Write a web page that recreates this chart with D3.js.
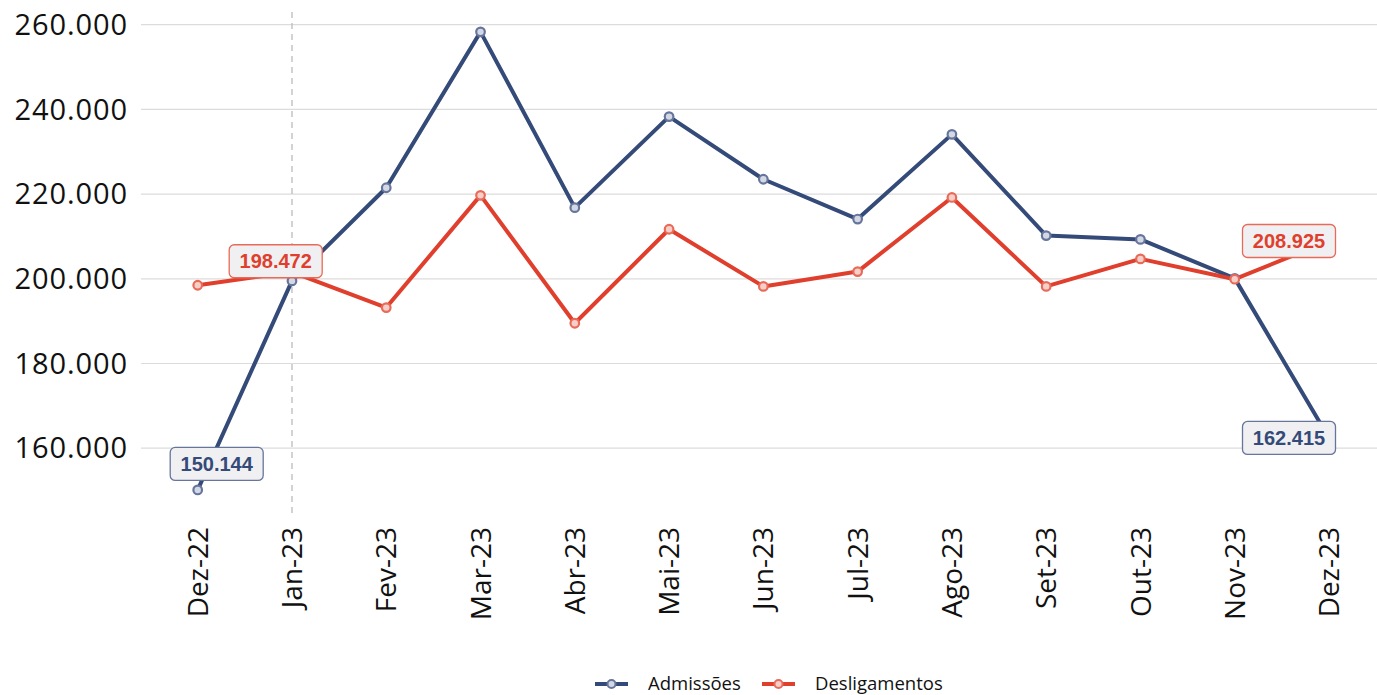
<!DOCTYPE html>
<html>
<head>
<meta charset="utf-8">
<script src="https://cdn.jsdelivr.net/npm/d3@7"></script>
<style>
  body { margin: 0; background: #fff; }
  svg { display: block; }
</style>
</head>
<body>
<div id="chart"></div>
<script>
// datos
const months = ["Dez-22", "Jan-23", "Fev-23", "Mar-23", "Abr-23", "Mai-23", "Jun-23",
  "Jul-23", "Ago-23", "Set-23", "Out-23", "Nov-23", "Dez-23"];
const admissoes = [150144, 199500, 221500, 258300, 216800, 238300, 223500,
  214100, 234100, 210200, 209300, 200100, 162415];
const desligamentos = [198472, 201600, 193200, 219700, 189500, 211700, 198200,
  201700, 219200, 198200, 204700, 199900, 208925];
const yTicks = [160000, 180000, 200000, 220000, 240000, 260000];
const seriesNames = ["Admissões", "Desligamentos"];

const width = 1377, height = 695;
const blue = "#344a78", red = "#df3f2c";

const svg = d3.select("#chart").append("svg")
  .attr("width", width)
  .attr("height", height);

const x = d3.scalePoint(months, [197.7, 1329]);
const y = d3.scaleLinear([144700, 263700], [513, 9]);

const fmt = d3.formatLocale({ decimal: ",", thousands: ".", grouping: [3], currency: ["R$", ""] }).format(",d");

// grid horizontal
svg.append("g")
  .selectAll("line")
  .data(yTicks)
  .join("line")
  .attr("x1", 141).attr("x2", width)
  .attr("y1", d => y(d)).attr("y2", d => y(d))
  .attr("stroke", "#dcdcdc")
  .attr("stroke-width", 1.2);

// eje y
svg.append("g")
  .attr("font-family", "'Open Sans', sans-serif")
  .attr("font-size", 29)
  .attr("letter-spacing", 0.9)
  .attr("fill", "#111")
  .attr("text-anchor", "end")
  .selectAll("text")
  .data(yTicks)
  .join("text")
  .attr("x", 128)
  .attr("y", d => y(d))
  .attr("dy", "0.35em")
  .text(d => fmt(d));

// eje x (rotado)
svg.append("g")
  .attr("font-family", "'Open Sans', sans-serif")
  .attr("font-size", 28)
  .attr("fill", "#111")
  .selectAll("text")
  .data(months)
  .join("text")
  .attr("transform", d => `translate(${x(d)},527) rotate(-90)`)
  .attr("text-anchor", "end")
  .attr("dy", "0.36em")
  .text(d => d);

// linea vertical discontinua en Jan-23
svg.append("line")
  .attr("x1", x("Jan-23")).attr("x2", x("Jan-23"))
  .attr("y1", 12).attr("y2", 513)
  .attr("stroke", "#bbb")
  .attr("stroke-width", 1.3)
  .attr("stroke-dasharray", "6,5");

const series = [
  { name: seriesNames[0], values: admissoes, color: blue, ring: "#66759c", fill: "#d4d8e4" },
  { name: seriesNames[1], values: desligamentos, color: red, ring: "#e86a58", fill: "#f6cfc8" }
];

const line = d3.line()
  .x((d, i) => x(months[i]))
  .y(d => y(d));

svg.append("g")
  .attr("fill", "none")
  .attr("stroke-width", 4)
  .attr("stroke-linejoin", "round")
  .selectAll("path")
  .data(series)
  .join("path")
  .attr("stroke", d => d.color)
  .attr("d", d => line(d.values));

// puntos
series.forEach(s => {
  svg.append("g")
    .selectAll("circle")
    .data(s.values)
    .join("circle")
    .attr("cx", (d, i) => x(months[i]))
    .attr("cy", d => y(d))
    .attr("r", 4.3)
    .attr("fill", s.fill)
    .attr("stroke", s.ring)
    .attr("stroke-width", 2.2);
});

// etiquetas primer y ultimo valor (desplazadas como en el original)
const last = months.length - 1;
const labels = [
  { s: series[0], i: 0, dx: 19, dy: -26 },
  { s: series[1], i: 0, dx: 78, dy: -24 },
  { s: series[1], i: last, dx: -40, dy: 0 },
  { s: series[0], i: last, dx: -40, dy: 0 }
];

const lab = svg.append("g")
  .selectAll("g")
  .data(labels)
  .join("g")
  .attr("transform", d => `translate(${x(months[d.i]) + d.dx},${y(d.s.values[d.i]) + d.dy})`);

lab.append("rect")
  .attr("x", -46.5).attr("y", -16.5)
  .attr("width", 93).attr("height", 33)
  .attr("rx", 5)
  .attr("fill", "#f0f0f2")
  .attr("stroke", d => d.s.ring)
  .attr("stroke-width", 1.3);

lab.append("text")
  .attr("text-anchor", "middle")
  .attr("dy", "0.36em")
  .attr("font-family", "'Liberation Sans', Arial, sans-serif")
  .attr("font-weight", "bold")
  .attr("font-size", 20)
  .attr("fill", d => d.s.color)
  .text(d => fmt(d.s.values[d.i]));

// leyenda
const legend = svg.append("g")
  .attr("font-family", "'Open Sans', sans-serif")
  .attr("font-size", 18.5)
  .attr("fill", "#111");

const legendX = [595, 762];
const legendItem = legend.selectAll("g")
  .data(series)
  .join("g")
  .attr("transform", (d, i) => `translate(${legendX[i]},684)`);

legendItem.append("line")
  .attr("x1", 0).attr("x2", 33)
  .attr("stroke", d => d.color)
  .attr("stroke-width", 4);

legendItem.append("circle")
  .attr("cx", 16.5)
  .attr("r", 4)
  .attr("fill", d => d.fill)
  .attr("stroke", d => d.ring)
  .attr("stroke-width", 2);

legendItem.append("text")
  .attr("x", 53)
  .attr("dy", "0.35em")
  .text(d => d.name);
</script>
</body>
</html>
